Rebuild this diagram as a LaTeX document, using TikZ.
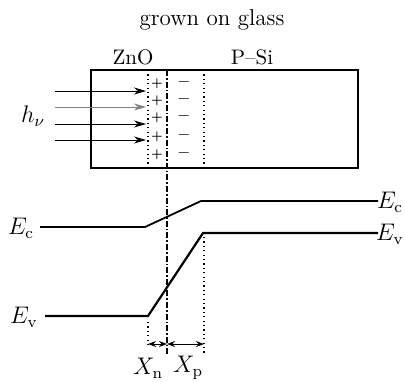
\documentclass[tikz,border=0pt]{standalone}
\usetikzlibrary{arrows.meta}
\begin{document}
\begin{tikzpicture}[x=0.5pt,y=-0.5pt,
  band/.style={line width=1.1pt},
  dotv/.style={line width=0.6pt, dash pattern=on 0.6pt off 1.6pt},
  dashdot/.style={line width=0.6pt, dash pattern=on 3pt off 1pt on 0.8pt off 1pt},
  ray/.style={line width=0.5pt, -{Stealth[length=6pt,width=3.5pt]}},
  dim/.style={line width=0.5pt, {Stealth[length=4pt,width=3pt]}-{Stealth[length=4pt,width=3pt]}},
  lab/.style={inner sep=0pt, font=\fontsize{10.5}{12}\selectfont},
  elab/.style={inner sep=0pt, font=\fontsize{12}{14}\selectfont},
  plusc/.style={inner sep=0pt, font=\fontsize{5.5}{6}\selectfont\bfseries},
  minusc/.style={inner sep=0pt, font=\fontsize{8.5}{9}\selectfont\bfseries}]
\useasboundingbox (0,0) rectangle (405,381);
% title
\node[inner sep=0pt, font=\fontsize{11.5}{13}\selectfont] (title) at (212,20) {grown on glass};
% box
\coordinate (boxTL) at (91,70);
\coordinate (boxBR) at (358,168);
\draw[line width=0.7pt] (boxTL) rectangle (boxBR);
\node[lab] (zno) at (133,57) {ZnO};
\node[lab] (psi) at (252,57) {P--Si};
% vertical lines
\coordinate (dlT) at (148,70); \coordinate (dlB) at (148,168);
\coordinate (drT) at (204,70); \coordinate (drB) at (204,168);
\coordinate (ddT) at (167,70); \coordinate (ddB) at (167,355);
\draw[dotv] (dlT) -- (dlB);
\draw[dotv] (drT) -- (drB);
\draw[dashdot] (ddT) -- (ddB);
% charges
\foreach \y [count=\i] in {84,101,118,137,155}{
  \node[plusc] (plus\i) at (157,\y) {+};
  \node[minusc] (minus\i) at (184,\y) {--};
}
% light rays
\foreach \y/\c [count=\i] in {91/black,107/gray,124/black,140/black}{
  \coordinate (rs\i) at (55,\y);
  \coordinate (re\i) at (146,\y);
  \draw[ray,draw=\c] (rs\i) -- (re\i);
}
\node[elab] (hv) at (33,116) {$h_{\nu}$};
% bands
\coordinate (ec1) at (40,227); \coordinate (ec2) at (145,227);
\coordinate (ec3) at (201,201); \coordinate (ec4) at (378,201);
\coordinate (ev1) at (45,316); \coordinate (ev2) at (148,316);
\coordinate (ev3) at (203,233); \coordinate (ev4) at (378,233);
\draw[line width=0.9pt] (ec1) -- (ec2) -- (ec3) -- (ec4);
\draw[band] (ev1) -- (ev2) -- (ev3) -- (ev4);
\node[elab] (ecL) at (21,228) {$E_{\mathrm{c}}$};
\node[elab] (ecR) at (390,202) {$E_{\mathrm{c}}$};
\node[elab] (evL) at (24,317) {$E_{\mathrm{v}}$};
\node[elab] (evR) at (390,234) {$E_{\mathrm{v}}$};
% lower dotted lines
\coordinate (xl) at (148,345);
\coordinate (xr) at (204,355);
\coordinate (xm) at (167,344);
\draw[dotv] (ev2) ++(0,6) -- (xl);
\draw[dotv] (ev3) ++(1,4) -- (xr);
\coordinate (al) at (148,344);
\coordinate (ar) at (204,344);
\draw[dim] (al) -- (xm);
\draw[dim] (xm) -- (ar);
\node[elab] (xn) at (148,368) {$X_{\mathrm{n}}$};
\node[elab] (xp) at (188,368) {$X_{\mathrm{p}}$};
\end{tikzpicture}
\end{document}
